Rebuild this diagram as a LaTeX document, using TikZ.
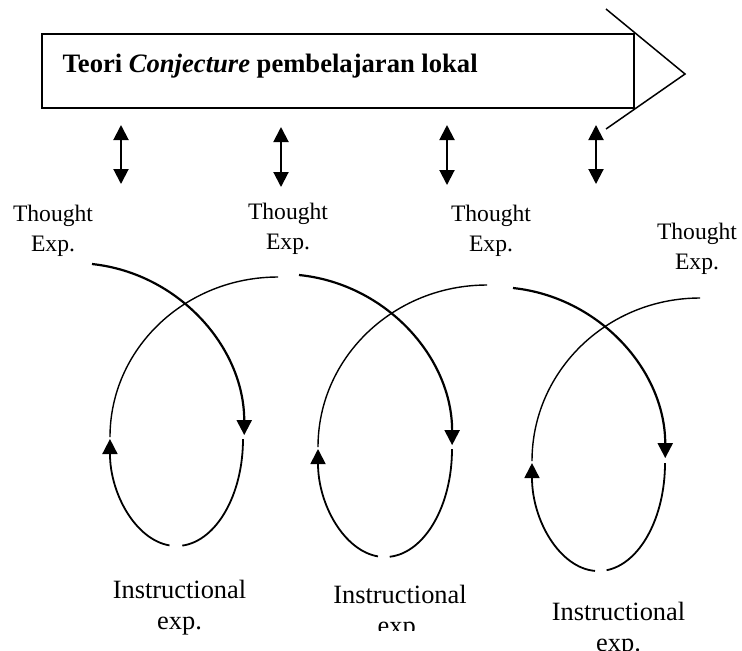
\documentclass[tikz,border=0pt]{standalone}
\usepackage{fontspec}
\setmainfont{Liberation Serif}
\usetikzlibrary{positioning}
\usetikzlibrary{arrows.meta}

\begin{document}
\begin{tikzpicture}[x=0.5pt,y=-0.5pt,
	tip/.style={-{Triangle[width=7.5pt,length=7.5pt]}},
	twotips/.style={{Triangle[width=7.5pt,length=7.5pt]}-{Triangle[width=7.5pt,length=7.5pt]}},
	thoughtline/.style={line width=1.1pt},
	lowline/.style={line width=0.9pt},
	backline/.style={line width=0.7pt},
	thought/.style={align=center,inner sep=0pt,font=\fontsize{11.8}{15}\selectfont},
	instr/.style={align=center,inner sep=0pt,font=\fontsize{13.2}{15.5}\selectfont}]
	\useasboundingbox (0,0) rectangle (742,650);

	% Theory box with its arrow head
	\node [draw, line width=0.75pt, minimum width=296pt, minimum height=37pt, inner sep=0pt] (theory) at (338,71) {};
	\node [anchor=base west, inner sep=0pt, font=\fontsize{13.3}{16}\selectfont\bfseries] (title) at ([xshift=10.5pt,yshift=-0.5pt]theory.west) {Teori \textit{Conjecture} pembelajaran lokal};
	\coordinate (headtop) at (606,9);
	\coordinate (headtip) at (685,74);
	\coordinate (headbot) at (606,129);
	\draw [line width=0.75pt] (headtop) -- (headtip) -- (headbot);

	% Double arrows
	\foreach \i/\x/\ya/\yb in {1/121/125/184, 2/281/127/187, 3/447/125/185, 4/596/125/184} {
		\coordinate (up\i) at (\x,\ya);
		\coordinate (down\i) at (\x,\yb);
		\draw [line width=1pt, twotips] (up\i) -- (down\i);
	}

	% Thought experiments
	\node [thought] (th1) at (53,231) {Thought\\Exp.};
	\node [thought] (th2) at (288,229) {Thought\\Exp.};
	\node [thought] (th3) at (491,231) {Thought\\Exp.};
	\node [thought] (th4) at (697,249) {Thought\\Exp.};

	% Cycle 1
	\draw [thoughtline, tip] (92,264) arc [start angle=-84, end angle=0, x radius=170, y radius=172];
	\draw [lowline] (243,439) arc [start angle=0, end angle=85, x radius=66.5, y radius=107];
	\draw [lowline, tip] (169.5,545.4) arc [start angle=96, end angle=180, x radius=66.5, y radius=107];
	\draw [backline] (110,437) arc [start angle=180, end angle=270, x radius=168, y radius=160];
	\coordinate (bot1) at (176.5,546);

	% Cycle 2
	\draw [thoughtline, tip] (299,275) arc [start angle=-84.3, end angle=0, x radius=170, y radius=171];
	\draw [lowline] (452,449) arc [start angle=0, end angle=86, x radius=67, y radius=108];
	\draw [lowline, tip] (378,556.4) arc [start angle=96, end angle=180, x radius=67, y radius=108];
	\draw [backline] (318,447) arc [start angle=180, end angle=270, x radius=169, y radius=162];
	\coordinate (bot2) at (385,557);

	% Cycle 3
	\draw [thoughtline, tip] (513,288) arc [start angle=-84, end angle=0, x radius=170, y radius=171];
	\draw [lowline] (665,463) arc [start angle=0, end angle=83, x radius=66.5, y radius=108];
	\draw [lowline, tip] (595,570.9) arc [start angle=93, end angle=180, x radius=66.5, y radius=108];
	\draw [backline] (532,461) arc [start angle=180, end angle=270, x radius=168, y radius=163];
	\coordinate (bot3) at (598.5,571);

	% Instructional experiments
	\node [instr, below=17pt of bot1, xshift=1.5pt] (in1) {Instructional\\exp.};
	\begin{scope}
		\clip (300,560) rectangle (500,630);
		\node [instr, below=14pt of bot2, xshift=7.5pt] (in2) {Instructional\\exp.};
	\end{scope}
	\node [instr, below=15.5pt of bot3, xshift=10pt] (in3) {Instructional\\exp.};
\end{tikzpicture}
\end{document}
